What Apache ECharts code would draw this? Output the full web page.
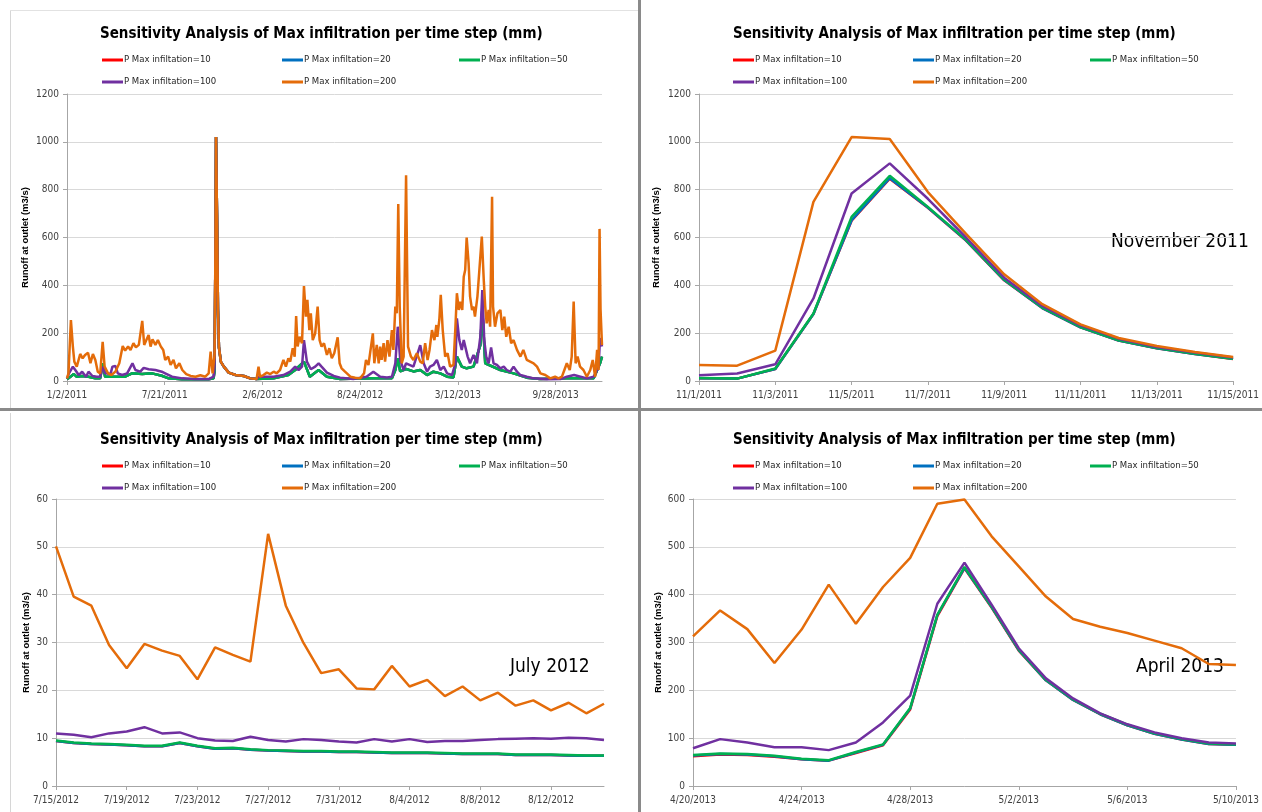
<!DOCTYPE html>
<html><head><meta charset="utf-8">
<script src="https://cdn.jsdelivr.net/npm/echarts@6/dist/echarts.min.js"></script>
<style>html,body{margin:0;padding:0;background:#fff}#c{width:1262px;height:812px}</style>
</head><body><div id="c"></div>
<script>
// ---------------- DATA ----------------
const seriesNames = ['P Max infiltation=10','P Max infiltation=20','P Max infiltation=50','P Max infiltation=100','P Max infiltation=200'];
const chartTitle = 'Sensitivity Analysis of Max infiltration per time step (mm)';
const yAxisTitle = 'Runoff at outlet (m3/s)';
const panelNotes = ['', 'November 2011', 'July 2012', 'April 2013'];

// Panel 1: whole record, x = days since 1/2/2011
const tlTickLabels = ['1/2/2011','7/21/2011','2/6/2012','8/24/2012','3/12/2013','9/28/2013'];
const tlTickDays = [0,200,400,600,800,1000];
const tlLastDay = 1095;
const tlOrange = [[0,11],[3,32],[8,255],[12,144],[15,81],[20,60],[27,113],[32,95],[37,109],[43,118],[48,74],[53,113],[58,88],[63,39],[68,32],[73,164],[77,60],[84,32],[91,25],[99,39],[107,74],[114,146],[119,127],[125,144],[130,130],[136,158],[141,141],[147,151],[154,251],[158,151],[162,169],[167,192],[171,144],[175,174],[181,151],[186,171],[192,144],[197,130],[201,88],[207,102],[212,67],[218,88],[223,53],[230,74],[236,46],[244,29],[253,21],[263,18],[273,24],[283,18],[290,32],[294,123],[298,32],[302,109],[304,600],[305,1020],[306,1015],[307,700],[309,300],[311,140],[315,80],[321,60],[331,35],[345,25],[362,21],[375,11],[388,8],[392,60],[395,18],[402,25],[409,35],[416,29],[423,39],[429,32],[436,46],[443,88],[448,60],[453,95],[457,81],[462,137],[466,102],[469,272],[472,144],[476,185],[481,158],[485,397],[489,269],[492,339],[496,213],[499,283],[503,171],[508,199],[513,311],[517,171],[521,144],[526,158],[532,109],[537,137],[542,95],[547,116],[554,183],[558,74],[562,53],[569,39],[580,18],[590,14],[600,11],[608,32],[612,88],[617,67],[626,199],[629,74],[634,151],[638,74],[641,144],[644,88],[648,158],[651,81],[656,171],[660,102],[665,213],[668,130],[672,311],[675,283],[678,740],[681,311],[685,74],[689,102],[694,860],[698,144],[704,102],[709,88],[716,116],[723,81],[728,74],[733,158],[738,88],[742,130],[747,213],[752,171],[756,234],[758,185],[762,255],[765,360],[769,213],[774,102],[779,116],[784,60],[791,67],[795,227],[798,367],[802,297],[805,332],[809,297],[812,436],[815,464],[818,600],[822,492],[825,353],[829,297],[832,311],[835,269],[840,353],[844,464],[849,604],[853,422],[856,311],[859,241],[863,297],[866,227],[870,770],[872,311],[876,227],[881,283],[887,297],[891,213],[895,269],[899,185],[904,227],[909,158],[914,171],[921,130],[928,102],[934,130],[941,88],[948,81],[955,74],[962,60],[969,32],[979,25],[989,11],[999,18],[1006,11],[1013,18],[1018,46],[1023,74],[1029,46],[1033,102],[1037,332],[1041,74],[1045,102],[1050,60],[1057,46],[1064,18],[1071,46],[1076,88],[1081,18],[1085,130],[1088,46],[1090,636],[1092,300],[1095,150]];
const tlPurple = [[0,11],[4,32],[12,60],[17,46],[24,25],[31,39],[39,18],[44,39],[52,21],[61,18],[68,18],[73,60],[78,32],[89,29],[93,60],[99,63],[104,32],[113,25],[123,32],[134,74],[140,46],[150,39],[157,55],[167,49],[181,46],[194,39],[201,32],[215,18],[236,11],[263,8],[290,8],[300,18],[302,60],[304,600],[305,1020],[306,1015],[307,700],[309,300],[311,140],[315,80],[321,60],[331,35],[345,25],[362,21],[375,11],[388,8],[392,18],[423,18],[443,25],[457,39],[467,60],[474,46],[481,60],[485,171],[491,81],[499,49],[508,60],[515,74],[521,60],[532,35],[546,21],[559,14],[586,8],[613,18],[627,39],[641,18],[655,15],[665,18],[672,74],[677,227],[682,88],[689,46],[694,74],[709,60],[723,150],[730,74],[737,39],[743,60],[750,67],[757,88],[764,46],[771,60],[778,32],[788,25],[795,74],[798,262],[803,171],[808,130],[812,171],[816,178],[820,102],[825,74],[832,109],[839,74],[846,185],[850,380],[854,171],[858,102],[863,74],[868,140],[873,74],[880,67],[887,53],[894,60],[900,46],[907,39],[914,60],[921,39],[928,25],[941,18],[955,11],[982,7],[1010,8],[1023,18],[1038,25],[1051,18],[1064,11],[1078,18],[1088,60],[1091,180],[1095,144]];
const tlGreen = [[0,7],[7,18],[14,29],[20,18],[31,21],[44,18],[58,11],[68,11],[73,74],[78,18],[92,18],[106,18],[119,18],[133,32],[154,29],[174,32],[194,22],[208,11],[235,7],[290,7],[300,11],[302,40],[304,600],[305,1020],[306,1015],[307,700],[309,300],[311,140],[315,80],[321,60],[331,35],[345,25],[362,21],[375,11],[388,8],[423,11],[453,25],[467,46],[485,81],[497,18],[515,46],[532,18],[559,8],[627,11],[665,11],[672,46],[677,95],[682,40],[694,50],[709,40],[723,46],[737,25],[750,39],[764,32],[778,18],[791,15],[798,102],[808,60],[818,53],[832,60],[846,150],[850,300],[856,74],[887,46],[914,32],[941,14],[968,8],[1023,11],[1078,11],[1091,74],[1095,102]];
// red and blue lie entirely under the green line in the reference; read as the same values
const tlBlue = tlGreen;
const tlRed = tlGreen;

// Panel 2: November 2011
const trDates = ['11/1/2011','11/2/2011','11/3/2011','11/4/2011','11/5/2011','11/6/2011','11/7/2011','11/8/2011','11/9/2011','11/10/2011','11/11/2011','11/12/2011','11/13/2011','11/14/2011','11/15/2011'];
const trRed    = [12,10,50,280,670,846,724,587,421,305,224,169,137,113,92];
const trBlue   = [12,10,50,280,672,848,725,588,422,305,224,169,137,113,93];
const trGreen  = [13,10,52,282,686,858,728,590,424,307,226,170,138,114,93];
const trPurple = [24,31,70,345,784,910,762,600,432,314,233,177,142,119,98];
const trOrange = [67,64,127,749,1020,1012,790,615,446,321,237,180,146,121,100];

// Panel 3: July 2012
const blDates = ['7/15/2012','7/16/2012','7/17/2012','7/18/2012','7/19/2012','7/20/2012','7/21/2012','7/22/2012','7/23/2012','7/24/2012','7/25/2012','7/26/2012','7/27/2012','7/28/2012','7/29/2012','7/30/2012','7/31/2012','8/1/2012','8/2/2012','8/3/2012','8/4/2012','8/5/2012','8/6/2012','8/7/2012','8/8/2012','8/9/2012','8/10/2012','8/11/2012','8/12/2012','8/13/2012','8/14/2012','8/15/2012'];
const blRed    = [9.4,9.0,8.8,8.7,8.5,8.3,8.3,9.0,8.3,7.8,7.9,7.6,7.4,7.3,7.2,7.2,7.1,7.1,7.0,6.9,6.9,6.9,6.8,6.7,6.7,6.7,6.5,6.5,6.5,6.4,6.3,6.3];
const blBlue   = [9.4,9.0,8.8,8.7,8.5,8.3,8.3,9.0,8.3,7.8,7.9,7.6,7.4,7.3,7.2,7.2,7.1,7.1,7.0,6.9,6.9,6.9,6.8,6.7,6.7,6.7,6.5,6.5,6.5,6.4,6.3,6.3];
const blGreen  = [9.5,9.1,8.9,8.8,8.6,8.4,8.4,9.1,8.4,7.9,8.0,7.7,7.5,7.4,7.3,7.3,7.2,7.2,7.1,7.0,7.0,7.0,6.9,6.8,6.8,6.8,6.6,6.6,6.6,6.5,6.4,6.4];
const blPurple = [11.0,10.7,10.2,11.0,11.4,12.3,11.0,11.2,10.0,9.5,9.4,10.3,9.6,9.3,9.8,9.6,9.3,9.1,9.8,9.3,9.8,9.2,9.4,9.4,9.6,9.8,9.9,10.0,9.9,10.1,10.0,9.6];
const blOrange = [50.1,39.6,37.7,29.5,24.6,29.7,28.3,27.2,22.3,29.0,27.4,26.0,52.7,37.7,29.9,23.6,24.4,20.4,20.2,25.1,20.8,22.2,18.8,20.8,17.9,19.5,16.8,17.9,15.8,17.4,15.2,17.2];

// Panel 4: April 2013
const brDates = ['4/20/2013','4/21/2013','4/22/2013','4/23/2013','4/24/2013','4/25/2013','4/26/2013','4/27/2013','4/28/2013','4/29/2013','4/30/2013','5/1/2013','5/2/2013','5/3/2013','5/4/2013','5/5/2013','5/6/2013','5/7/2013','5/8/2013','5/9/2013','5/10/2013'];
const brRed    = [62,66,65,61,56,53,69,85,160,355,455,373,283,221,180,150,127,109,97,88,86];
const brBlue   = [64,67,66,62,56,53,70,86,162,357,456,374,284,221,180,150,127,109,97,88,86];
const brGreen  = [65,68,67,63,57,54,71,87,163,358,458,375,285,222,181,151,128,110,98,89,87];
const brPurple = [79,98,91,81,81,75,91,133,189,381,467,379,288,225,183,152,129,112,100,91,89];
const brOrange = [313,367,328,257,327,421,339,416,477,590,599,522,459,396,349,333,320,304,288,255,253];

// ---------------- STYLE / LAYOUT ----------------
const NARROW = '"DejaVu Sans Condensed","Liberation Sans Narrow",sans-serif';
const SANS = '"Liberation Sans",Arial,sans-serif';
const colors = ['#FF0000','#0070C0','#00B050','#7030A0','#E46C0A'];
const axisGray = '#A6A6A6';
const gridGray = '#D9D9D9';
const labelColor = '#404040';

const panels = [
  {grid:{left:67,top:94,width:535,height:287}, titleLeft:100, titleTop:27, legX:[102,282,459], legY:[61,83], yMax:1200, yInt:200, nameGap:37,
   x:'value', data:[tlRed,tlBlue,tlGreen,tlPurple,tlOrange]},
  {grid:{left:699,top:94,width:535,height:287}, titleLeft:733, titleTop:27, legX:[733,913,1090], legY:[61,83], yMax:1200, yInt:200, nameGap:38,
   x:'cat', cats:trDates, every:2, data:[trRed,trBlue,trGreen,trPurple,trOrange]},
  {grid:{left:56,top:499,width:548,height:287}, titleLeft:100, titleTop:433, legX:[102,282,459], legY:[467,489], yMax:60, yInt:10, nameGap:25,
   x:'cat', cats:blDates, every:4, data:[blRed,blBlue,blGreen,blPurple,blOrange]},
  {grid:{left:693,top:499,width:543,height:287}, titleLeft:733, titleTop:433, legX:[733,913,1090], legY:[467,489], yMax:600, yInt:100, nameGap:30,
   x:'cat', cats:brDates, every:4, data:[brRed,brBlue,brGreen,brPurple,brOrange]}
];

const option = {
  animation:false,
  backgroundColor:'#ffffff',
  color: colors,
  title:[], legend:[], grid:[], xAxis:[], yAxis:[], series:[], graphic:[]
};

panels.forEach((p, i) => {
  option.title.push({text:chartTitle, left:p.titleLeft, top:p.titleTop, padding:0,
    textStyle:{fontFamily:NARROW, fontWeight:'bold', fontSize:15, color:'#000'}});
  option.grid.push(Object.assign({containLabel:false}, p.grid));
  seriesNames.forEach((nm, k) => {
    const row = k < 3 ? 0 : 1, col = k < 3 ? k : k - 3;
    option.legend.push({data:[nm], left:p.legX[col], top:p.legY[row] - 6, padding:0,
      icon:'rect', itemWidth:21, itemHeight:3, itemGap:0,
      textStyle:{fontFamily:NARROW, fontSize:9.5, color:'#262626', padding:[0,0,0,-4]}});
  });
  const commonLine = {lineStyle:{color:axisGray, width:1}};
  const yfmt = (v) => String(v);
  if (p.x === 'value') {
    option.xAxis.push({type:'value', gridIndex:i, min:0, max:tlLastDay,
      axisLine:Object.assign({show:true, onZero:false}, commonLine),
      axisTick:{show:true, length:4, customValues:tlTickDays, lineStyle:{color:axisGray}},
      splitLine:{show:false},
      axisLabel:{customValues:tlTickDays, margin:9, fontFamily:NARROW, fontSize:10, color:labelColor,
        formatter:(v) => { const j = tlTickDays.indexOf(Math.round(v)); return j >= 0 ? tlTickLabels[j] : ''; }}});
  } else {
    option.xAxis.push({type:'category', gridIndex:i, data:p.cats, boundaryGap:false,
      axisLine:Object.assign({show:true, onZero:false}, commonLine),
      axisTick:{show:true, length:4, interval:p.every - 1, lineStyle:{color:axisGray}},
      splitLine:{show:false},
      axisLabel:{interval:p.every - 1, margin:9, fontFamily:NARROW, fontSize:10, color:labelColor}});
  }
  option.yAxis.push({type:'value', gridIndex:i, min:0, max:p.yMax, interval:p.yInt,
    name:yAxisTitle, nameLocation:'middle', nameRotate:90, nameGap:p.nameGap,
    nameTextStyle:{fontFamily:SANS, fontWeight:'bold', fontSize:9.5, color:'#000'},
    axisLine:Object.assign({show:true}, commonLine),
    axisTick:{show:true, length:4, lineStyle:{color:axisGray}},
    splitLine:{show:true, lineStyle:{color:gridGray, width:1}},
    axisLabel:{margin:8, fontFamily:NARROW, fontSize:10, color:labelColor, formatter:yfmt}});
  p.data.forEach((arr, k) => {
    option.series.push({type:'line', name:seriesNames[k], xAxisIndex:i, yAxisIndex:i,
      data:arr, showSymbol:false, symbol:'none', smooth:false,
      lineStyle:{color:colors[k], width:2.5}, itemStyle:{color:colors[k]}, z:2 + k});
  });
});

option.graphic.push(
  {type:'rect', left:10, top:10, shape:{width:1, height:398}, style:{fill:'#d6d6d6'}, silent:true},
  {type:'rect', left:10, top:10, shape:{width:628, height:1}, style:{fill:'#e2e2e2'}, silent:true},
  {type:'rect', left:10, top:413, shape:{width:1, height:399}, style:{fill:'#d6d6d6'}, silent:true},
  {type:'rect', left:638, top:0, shape:{width:3, height:812}, style:{fill:'#8a8a8a'}, silent:true},
  {type:'rect', left:0, top:408, shape:{width:1262, height:3}, style:{fill:'#8a8a8a'}, silent:true},
  {type:'text', left:1111, top:233, style:{text:panelNotes[1], font:'19px ' + NARROW, fill:'#000'}},
  {type:'text', left:510, top:658, style:{text:panelNotes[2], font:'19px ' + NARROW, fill:'#000'}},
  {type:'text', left:1136, top:658, style:{text:panelNotes[3], font:'19px ' + NARROW, fill:'#000'}}
);

const chart = echarts.init(document.getElementById('c'), null, {renderer:'canvas', width:1262, height:812});
chart.setOption(option);
</script>
</body></html>
